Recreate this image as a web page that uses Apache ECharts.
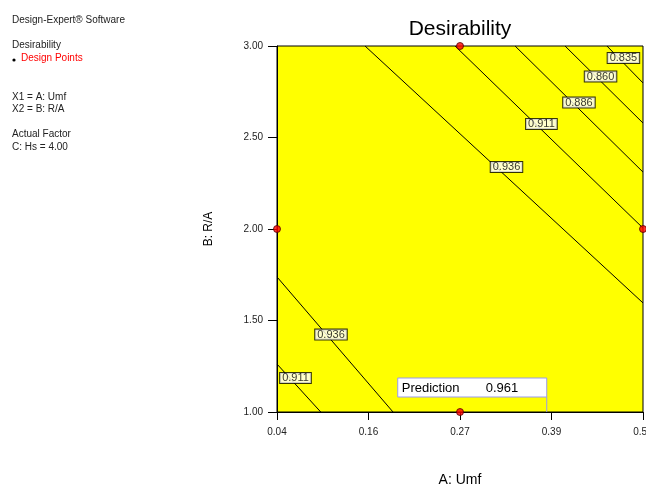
<!DOCTYPE html>
<html>
<head>
<meta charset="utf-8">
<script src="https://cdn.jsdelivr.net/npm/echarts@6/dist/echarts.min.js"></script>
<style>
html,body{margin:0;padding:0;background:#fff;}
#chart{width:646px;height:486px;}
</style>
</head>
<body>
<div id="chart"></div>
<script>
// ---- data (factor A in coded units -1..+1, shown with actual-unit tick labels) ----
const xTickLabels = ['0.04', '0.16', '0.27', '0.39', '0.50'];
const yTickLabels = ['1.00', '1.50', '2.00', '2.50', '3.00'];

const contourLevels = ['0.936', '0.911', '0.886', '0.860', '0.835', '0.936', '0.911'];
const contourStartA = [-0.519, -0.027, 0.301, 0.574, 0.803, -1.000, -1.000];
const contourStartB = [3.000, 3.000, 3.000, 3.000, 3.000, 1.738, 1.262];
const contourEndA   = [1.000, 1.000, 1.000, 1.000, 1.000, -0.366, -0.761];
const contourEndB   = [1.596, 2.005, 2.311, 2.579, 2.798, 1.000, 1.000];
const labelA = [0.254, 0.445, 0.650, 0.768, 0.893, -0.705, -0.899];
const labelB = [2.339, 2.574, 2.691, 2.833, 2.934, 1.423, 1.186];

const designA = [0, -1, 1, 0];
const designB = [3, 2, 2, 1];

const predA = 0.474;
const predB = 1.0;
const predValue = '0.961';

const infoLines = ['Design-Expert® Software', 'Desirability', 'Design Points',
  'X1 = A: Umf', 'X2 = B: R/A', 'Actual Factor', 'C: Hs = 4.00'];

// ---- build ----
const FONT = '"Liberation Sans", Arial, sans-serif';
const chart = echarts.init(document.getElementById('chart'), null, {renderer: 'canvas'});

const series = [];
contourLevels.forEach((lv, i) => {
  series.push({
    type: 'line', silent: true, symbol: 'none', z: 3,
    lineStyle: {color: '#000', width: 1},
    data: [[contourStartA[i], contourStartB[i]], [contourEndA[i], contourEndB[i]]]
  });
});
series.push({
  type: 'scatter', silent: true, z: 5, symbolSize: 1,
  itemStyle: {color: 'transparent'},
  label: {
    show: true, position: 'inside', formatter: p => p.name,
    fontFamily: FONT, fontSize: 11, color: '#000', lineHeight: 10,
    backgroundColor: '#fff', borderColor: '#000', borderWidth: 1, padding: [0, 2, 0, 2]
  },
  data: contourLevels.map((lv, i) => ({name: lv, value: [labelA[i], labelB[i]]}))
});
series.push({
  type: 'scatter', silent: true, z: 8, clip: false, symbolSize: 7,
  itemStyle: {color: '#ff0000', borderColor: '#550000', borderWidth: 1},
  data: designA.map((a, i) => [a, designB[i]])
});
series.push({
  type: 'custom', silent: true, z: 7, clip: false,
  data: [[predA, predB]],
  renderItem: (params, api) => {
    const p = api.coord([api.value(0), api.value(1)]);
    return {
      type: 'group',
      children: [
        {type: 'line', shape: {x1: p[0], y1: p[1], x2: p[0], y2: p[1] - 15},
          style: {stroke: '#9999ee', lineWidth: 1}},
        {type: 'rect', shape: {x: p[0] - 149, y: p[1] - 34, width: 149, height: 19},
          style: {fill: '#fff', stroke: '#9999ee', lineWidth: 1}},
        {type: 'text', x: p[0] - 145, y: p[1] - 23.5,
          style: {text: 'Prediction', font: '13px ' + FONT, fill: '#000', verticalAlign: 'middle'}},
        {type: 'text', x: p[0] - 61, y: p[1] - 23.5,
          style: {text: predValue, font: '13px ' + FONT, fill: '#000', verticalAlign: 'middle'}}
      ]
    };
  }
});

const infoY = [20, 45, 58.5, 97, 109.5, 134.5, 147];
const graphics = infoLines.map((t, i) => ({
  type: 'text', x: i === 2 ? 21 : 12, y: infoY[i],
  style: {text: t, font: '10px ' + FONT, fill: i === 2 ? '#ff0000' : '#222', verticalAlign: 'middle'}
}));
graphics.push({type: 'circle', shape: {cx: 14, cy: 60, r: 1.6}, style: {fill: '#000'}});

chart.setOption({
  animation: false,
  backgroundColor: '#fff',
  textStyle: {fontFamily: FONT},
  title: {
    text: 'Desirability', left: 460, top: 19, padding: 0, textAlign: 'center',
    textStyle: {fontFamily: FONT, fontSize: 21, fontWeight: 'normal', color: '#000'}
  },
  grid: {left: 277, right: 3, top: 46, bottom: 74, show: true, containLabel: false,
    outerBoundsMode: 'none',
    backgroundColor: '#ffff00', borderColor: '#000', borderWidth: 1},
  xAxis: {
    type: 'value', min: -1, max: 1, interval: 0.5,
    name: 'A: Umf', nameLocation: 'middle', nameGap: 61,
    nameTextStyle: {fontFamily: FONT, fontSize: 14, color: '#000'},
    axisLine: {show: true, onZero: false, lineStyle: {color: '#000', width: 1}},
    axisTick: {show: true, length: 8, lineStyle: {color: '#000'}},
    axisLabel: {margin: 15, fontSize: 10, color: '#222', fontFamily: FONT,
      formatter: v => xTickLabels[Math.round((v + 1) / 0.5)]},
    splitLine: {show: false}
  },
  yAxis: {
    type: 'value', min: 1, max: 3, interval: 0.5,
    name: 'B: R/A', nameLocation: 'middle', nameGap: 62, nameRotate: 90,
    nameTextStyle: {fontFamily: FONT, fontSize: 12, color: '#000'},
    axisLine: {show: true, onZero: false, lineStyle: {color: '#000', width: 1}},
    axisTick: {show: true, length: 9, lineStyle: {color: '#000'}},
    axisLabel: {margin: 14, fontSize: 10, color: '#222', fontFamily: FONT,
      formatter: v => yTickLabels[Math.round((v - 1) / 0.5)]},
    splitLine: {show: false}
  },
  graphic: graphics,
  series: series
});
</script>
</body>
</html>
